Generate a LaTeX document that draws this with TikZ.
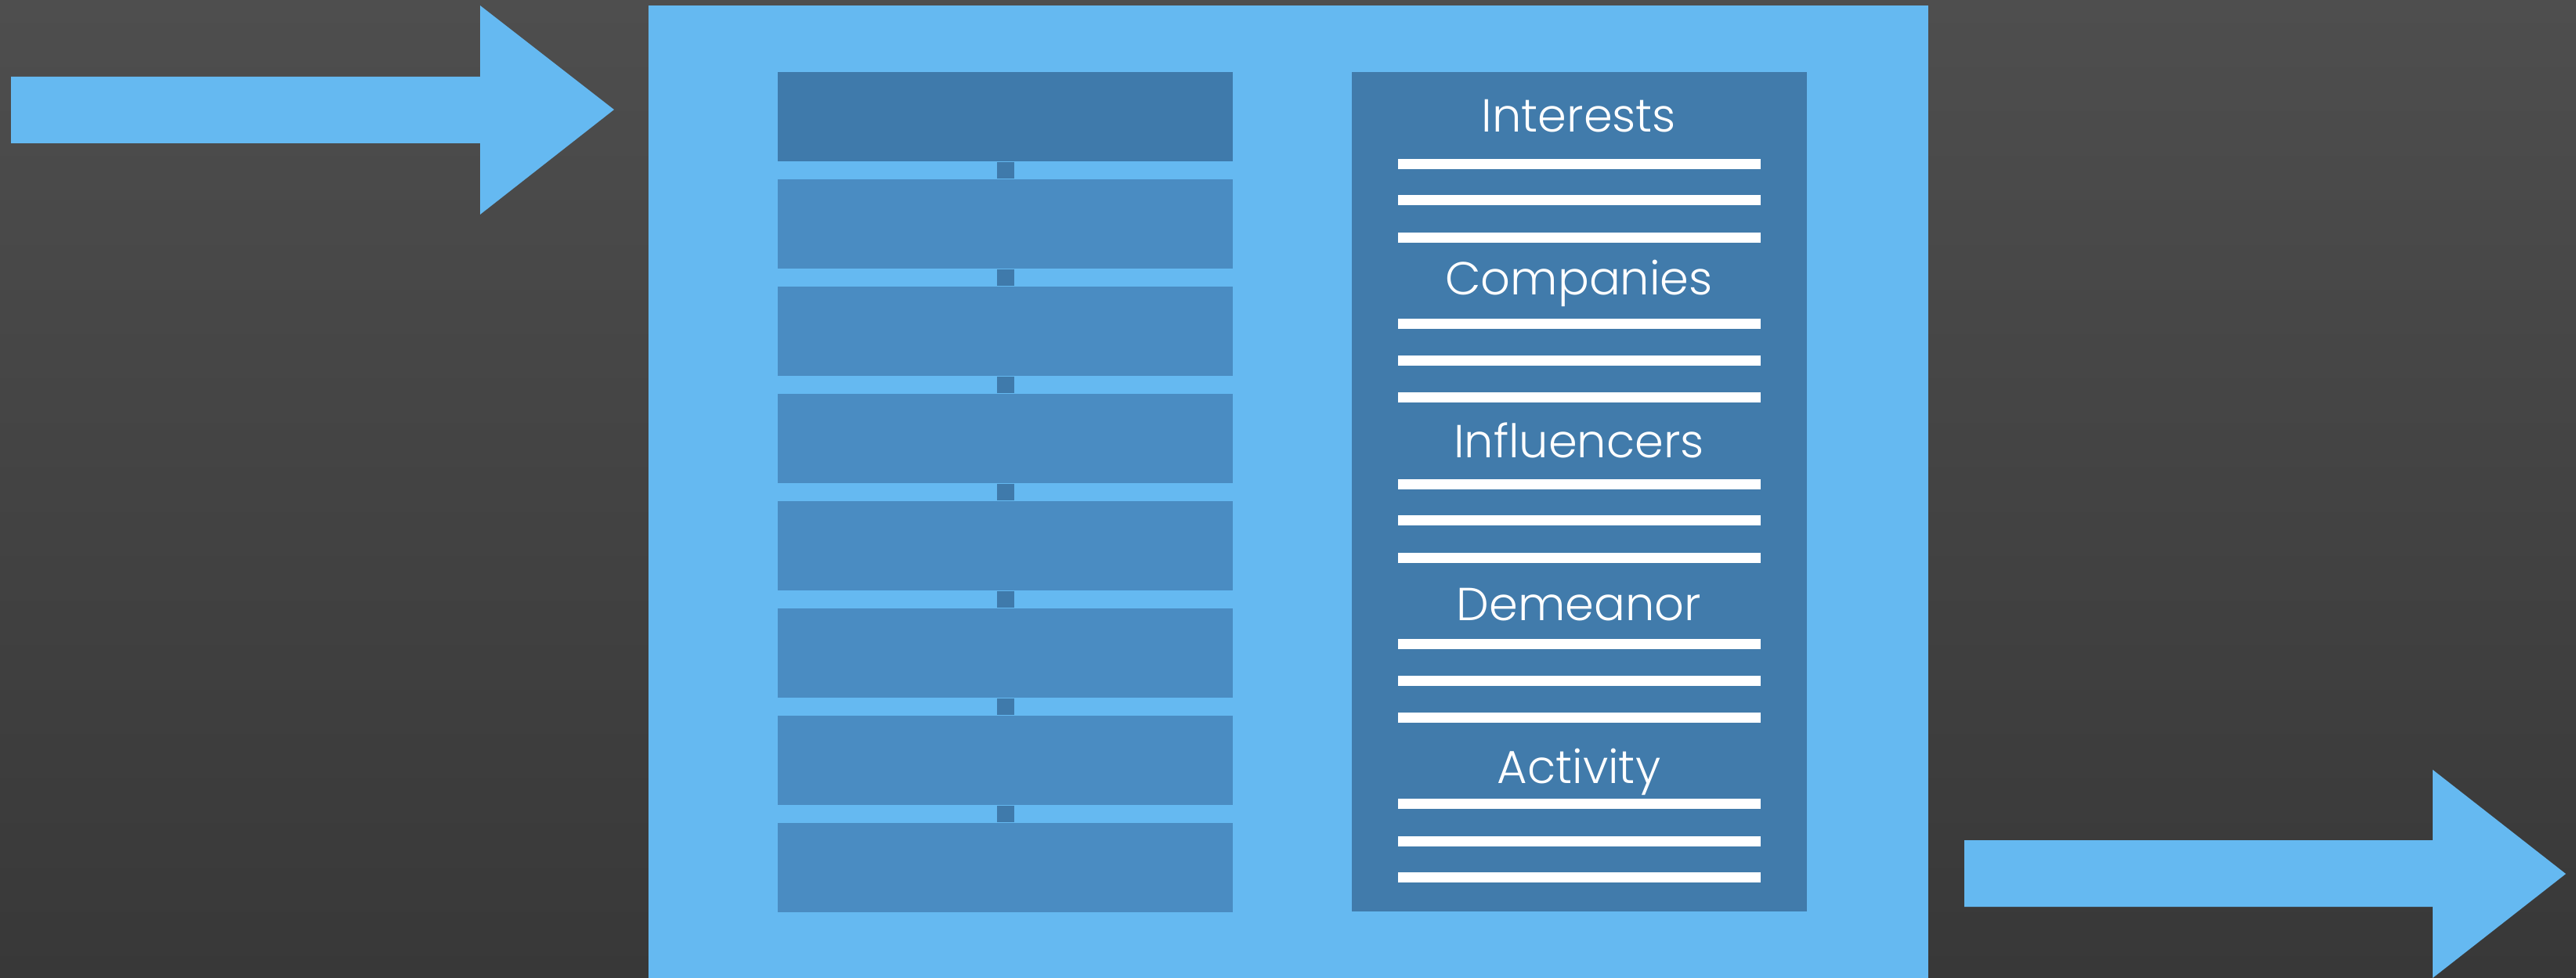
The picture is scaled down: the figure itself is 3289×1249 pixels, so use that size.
\documentclass[tikz,border=0pt]{standalone}
\usepackage{fontspec}
\newfontfamily\labfont{Poppins Light}
\definecolor{bgtop}{HTML}{4E4E4E}
\definecolor{bgbot}{HTML}{383838}
\definecolor{lblue}{HTML}{65B9F1}
\definecolor{dblue}{HTML}{3F7AAB}
\definecolor{mblue}{HTML}{4A8CC2}
\definecolor{pblue}{HTML}{417BAB}
\tikzset{
  rowbox/.style={fill=mblue, draw=none, inner sep=0pt, minimum width=5.81cm, minimum height=1.14cm},
  topbox/.style={rowbox, fill=dblue},
  link/.style={draw=dblue, line width=0.22cm},
  bar/.style={fill=white},
  lab/.style={text=white, font=\labfont\fontsize{16.8}{20}\selectfont, anchor=base, inner sep=0pt},
  flow/.style={fill=lblue},
}
\begin{document}
\begin{tikzpicture}[x=0.01cm, y=-0.01cm]
\useasboundingbox (0,0) rectangle (3289,1249);
\shade[top color=bgtop, bottom color=bgbot] (0,0) rectangle (3289,1249);
% main panel
\fill[lblue] (828,7) rectangle (2462,1249);
% left stack
\foreach \i in {1,...,8} {
  \pgfmathsetmacro{\cy}{92+57+(\i-1)*137}
  \ifnum\i=1
    \node[topbox] (b\i) at (1283.5,\cy) {};
  \else
    \node[rowbox] (b\i) at (1283.5,\cy) {};
  \fi
}
\foreach \i [evaluate=\i as \j using int(\i+1)] in {1,...,7} {
  \draw[link] (b\i.south) -- (b\j.north);
}
% right panel
\node[fill=pblue, inner sep=0pt, minimum width=5.81cm, minimum height=10.72cm] (panel) at (2016.5,628) {};
\node[lab] (t1) at (2016,169) {Interests};
\node[lab] (t2) at (2016,377) {Companies};
\node[lab] (t3) at (2016,585) {Influencers};
\node[lab] (t4) at (2016,793) {Demeanor};
\node[lab] (t5) at (2016,1001) {Activity};
\foreach \y in {203,249,297, 407,454,501, 612,658,706, 816,863,910, 1020,1068,1114} {
  \fill[bar] (1785,\y) rectangle (2248,\y+13);
}
% arrows
\coordinate (inT) at (784,140);
\coordinate (outT) at (3276,1116);
\fill[flow] (14,98) -- (613,98) -- (613,7) -- (inT) -- (613,274) -- (613,183) -- (14,183) -- cycle;
\fill[flow] (2508,1073) -- (3106,1073) -- (3106,983) -- (outT) -- (3106,1249) -- (3106,1158) -- (2508,1158) -- cycle;
\end{tikzpicture}
\end{document}
